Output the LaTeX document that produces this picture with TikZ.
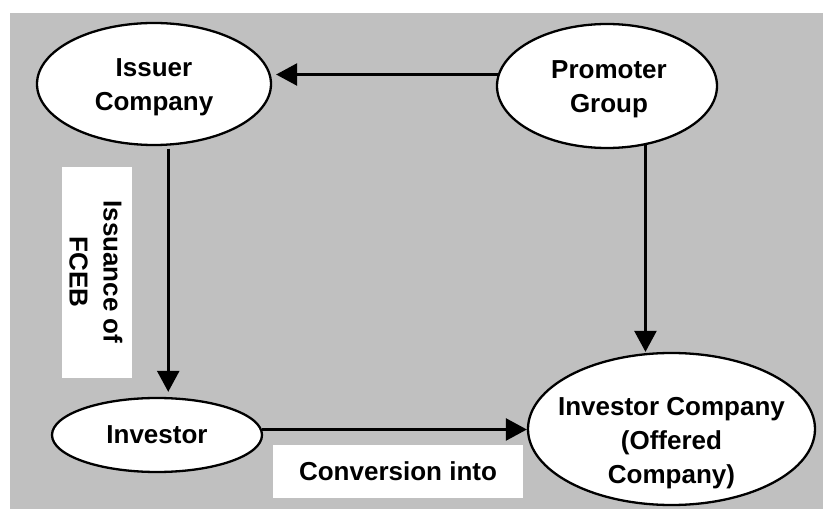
\documentclass[tikz,border=0pt]{standalone}
\usepackage{fontspec}
\setmainfont{Liberation Sans}
\usetikzlibrary{shapes.geometric,arrows.meta}
\definecolor{bggray}{HTML}{C0C0C0}
\begin{document}
\begin{tikzpicture}[x=1pt,y=-1pt,
  oval/.style={ellipse,draw=black,fill=white,line width=2.3pt,inner sep=0pt,
    align=center,font=\bfseries\fontsize{26}{35}\selectfont},
  txt/.style={align=center,font=\bfseries\fontsize{26}{34}\selectfont,inner sep=0pt},
  lbl/.style={fill=white,inner sep=0pt,align=center,font=\bfseries\fontsize{26}{36}\selectfont},
  arr/.style={line width=2.6pt,-{Triangle[length=21pt,width=22pt]}}]
\useasboundingbox (0,0) rectangle (825,510);
\fill[white] (0,0) rectangle (825,510);
\fill[bggray] (10,13) rectangle (823,509);
\node[oval,minimum width=234pt,minimum height=122pt] (iss) at (154,84) {};
\node[txt] (isstext) at (154,87) {Issuer\\Company};
\node[oval,minimum width=220pt,minimum height=124pt] (prom) at (607,86) {};
\node[txt] (promtext) at (609,89) {Promoter\\Group};
\node[oval,minimum width=210pt,minimum height=74pt] (inv) at (157,435) {Investor};
\node[oval,minimum width=287pt,minimum height=152pt] (ic) at (671.5,429) {};
\node[txt] (ictext) at (671.5,443) {Investor Company\\(Offered\\Company)};
\node[lbl,minimum width=70pt,minimum height=211pt] (lab1) at (97,272.5) {};
\node[txt,rotate=-90] (lab1text) at (96,272) {Issuance of\\FCEB};
\node[lbl,minimum width=250pt,minimum height=53pt] (lab2) at (398,471.5) {Conversion into};
\draw[arr,shorten >=4pt] (prom.174) -- (prom.174 -| iss.east);
\draw[arr,shorten <=3pt,shorten >=5pt] (iss.-77) -- (iss.-77 |- inv.north);
\draw[arr] (prom.-57) -- (prom.-57 |- ic.north);
\draw[arr] (inv.3) -- (inv.3 -| ic.west);
\end{tikzpicture}
\end{document}
